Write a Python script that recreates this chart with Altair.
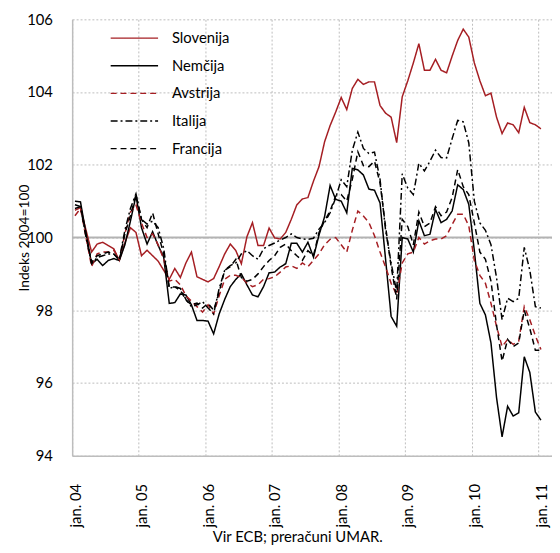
import altair as alt
import pandas as pd

# ---- data (monthly index, jan.04 = 0 ... jan.11 = 84) ----
series_names = ["Slovenija", "Nemčija", "Avstrija", "Italija", "Francija"]

slovenija = [
    100.75, 100.82, 100.2, 99.6, 99.82, 99.87, 99.78, 99.69, 99.37, 99.85, 100.27, 100.14,
    99.5, 99.65, 99.5, 99.35, 99.1, 98.85, 99.15, 98.9, 99.3, 99.6, 98.92, 98.85,
    98.78, 98.87, 99.2, 99.55, 99.82, 99.64, 99.28, 100.02, 100.41, 99.78, 99.78, 100.26,
    99.99, 99.96, 100.14, 100.5, 100.9, 101.06, 101.1, 101.55, 101.95, 102.63, 103.08, 103.45,
    103.85, 103.52, 104.1, 104.35, 104.21, 104.28, 104.28, 103.63, 103.42, 103.31, 102.61, 103.87,
    104.31, 104.8, 105.33, 104.6, 104.6, 104.9, 104.6, 104.53, 104.99, 105.42, 105.73, 105.51,
    104.8, 104.31, 103.9, 103.97, 103.31, 102.86, 103.15, 103.1, 102.88, 103.58, 103.16, 103.1,
    102.99,
]
nemcija = [
    101.0, 100.98, 100.1, 99.28, 99.4, 99.23, 99.37, 99.42, 99.37, 99.8, 100.45, 101.15,
    100.27, 99.82, 100.16, 99.78, 99.46, 98.19, 98.21, 98.45, 98.42, 98.15, 97.72, 97.72,
    97.7, 97.35, 97.9, 98.3, 98.65, 98.85, 99.0, 98.7, 98.42, 98.37, 98.65, 99.03,
    99.05, 99.19, 99.28, 99.84, 99.84, 99.6, 99.87, 99.46, 100.07, 100.57, 101.43, 101.05,
    101.0, 100.68, 101.9, 101.86, 101.72, 101.33, 101.3, 100.95, 99.4, 97.83, 97.56, 100.0,
    99.96, 99.6, 100.46, 100.05, 100.09, 100.77, 100.41, 100.5, 100.73, 101.45, 101.32, 100.91,
    99.64, 98.19, 97.87, 97.1, 95.6, 94.52, 95.36, 95.09, 95.18, 96.72, 96.29, 95.2,
    94.98,
]
avstrija = [
    100.6, 100.8, 100.0, 99.2, 99.55, 99.6, 99.6, 99.65, 99.4, 100.1, 100.7, 100.9,
    100.4, 100.0, 100.1, 99.8, 99.4, 98.8, 98.85, 98.7, 98.4, 98.25, 98.1, 97.95,
    98.15, 97.9, 98.4, 98.85, 98.96, 98.96, 98.9, 98.75, 98.65, 98.7, 98.85, 98.87,
    98.92, 99.05, 99.19, 99.22, 99.15, 99.3, 99.2, 99.37, 99.55, 99.8, 99.95, 100.0,
    99.8, 99.6, 100.2, 100.73, 100.59, 100.41, 100.05, 99.6, 99.19, 98.74, 98.42, 99.3,
    99.55, 99.6, 100.0, 99.82, 99.91, 99.96, 99.96, 100.05, 100.36, 100.64, 100.64, 100.32,
    99.37, 98.96, 98.74, 98.19, 97.56, 97.0, 97.2, 97.06, 97.15, 98.1, 97.74, 97.3,
    96.92,
]
italija = [
    100.8, 100.85, 100.0, 99.28, 99.45, 99.5, 99.55, 99.55, 99.4, 100.2, 100.8, 101.2,
    100.5, 100.37, 100.45, 100.27, 99.7, 98.6, 98.65, 98.6, 98.3, 98.1, 98.15, 98.24,
    98.06, 97.9, 98.6, 99.1, 99.23, 99.3, 99.55, 99.64, 99.5, 99.4, 99.69, 99.78,
    99.85, 99.93, 100.0, 100.1, 100.0, 99.96, 99.95, 99.98, 100.23, 100.41, 100.68, 101.09,
    101.59, 101.4, 102.4, 102.9, 102.45, 102.31, 102.35, 101.6, 100.2, 99.3, 98.5, 101.75,
    101.36, 101.18, 102.04, 101.83, 102.1, 102.4, 102.2, 102.19, 102.72, 103.22, 103.18, 102.6,
    101.0, 100.4, 100.2, 99.8, 98.9, 97.74, 98.33, 98.24, 98.33, 99.73, 99.1, 98.1,
    98.06,
]
francija = [
    100.9, 100.85, 100.1, 99.32, 99.5, 99.55, 99.6, 99.55, 99.37, 100.1, 100.6, 101.18,
    100.5, 100.27, 100.68, 100.1, 99.55, 98.64, 98.64, 98.55, 98.28, 98.15, 98.2, 98.06,
    98.19, 98.0, 98.5, 99.1, 99.2, 99.4, 98.9, 98.8, 98.85, 99.0, 99.2, 99.37,
    99.5, 99.73, 99.82, 99.64, 99.5, 99.37, 99.64, 99.5, 100.14, 100.46, 100.73, 101.14,
    101.18, 101.0, 101.6, 102.36, 101.98, 101.95, 102.1, 101.5, 100.3, 99.2, 98.3, 100.5,
    100.3, 99.8, 100.7, 100.3, 100.4, 100.85, 100.6, 100.7, 101.1, 101.87, 101.4, 101.18,
    100.4, 99.6, 99.4, 98.8, 97.6, 96.6, 97.2, 97.0, 97.1, 98.0, 97.5, 96.9,
    96.9,
]

tick_labels = ["jan. 04", "jan. 05", "jan. 06", "jan. 07", "jan. 08", "jan. 09", "jan. 10", "jan. 11"]
y_ticks = [94, 96, 98, 100, 102, 104, 106]
baseline_value = [100]

# ---- styles ----
RED = "#A51E23"
series_colors = [RED, "#000000", RED, "#000000", "#000000"]
series_dashes = [[1, 0], [1, 0], [6, 4], [7, 3, 2, 3], [6, 4]]
FONT = "Lato"

rows = []
for name, vals in zip(series_names, [slovenija, nemcija, avstrija, italija, francija]):
    for i, v in enumerate(vals):
        rows.append({"m": i, "v": v, "series": name})
df = pd.DataFrame(rows)

tick_values = [12 * k - 0.5 for k in range(len(tick_labels))]
label_expr = "[" + ",".join("'%s'" % t for t in tick_labels) + "][round((datum.value + 0.5) / 12)]"

legend = alt.Legend(
    title=None, orient="none", legendX=50, legendY=6, padding=0,
    symbolType="M-2,0H2", symbolSize=576, symbolStrokeWidth=1.4,
    labelFont=FONT, labelFontSize=15, labelColor="#000000", labelOffset=25,
    rowPadding=7,
)

x_enc = alt.X(
    "m:Q",
    scale=alt.Scale(domain=[-0.5, 86.0], nice=False, zero=False),
    axis=alt.Axis(
        values=tick_values, labelExpr=label_expr, labelAngle=270,
        labelFont=FONT, labelFontSize=15, labelColor="#000000", labelPadding=28, labelOffset=3,
        labelOverlap=False, labelBound=False, labelFlush=False,
        ticks=False, grid=True, gridColor="#bdbdbd", gridDash=[2, 2], gridWidth=1,
        domainColor="#bdbdbd", domainWidth=1.5,
        title="Vir ECB; preračuni UMAR.", titleFont=FONT, titleFontSize=15,
        titleFontWeight="normal", titleColor="#000000",
        titleX=228, titleY=87, titleAlign="center", titleBaseline="alphabetic",
    ),
)
y_enc = alt.Y(
    "v:Q",
    scale=alt.Scale(domain=[94, 106], nice=False, zero=False),
    axis=alt.Axis(
        values=y_ticks, format="d",
        labelFont=FONT, labelFontSize=15, labelColor="#000000", labelPadding=20,
        ticks=False, grid=True, gridColor="#bdbdbd", gridDash=[2, 2], gridWidth=1,
        domainColor="#bdbdbd", domainWidth=1.5,
        title="Indeks 2004=100", titleFont=FONT, titleFontSize=14,
        titleFontWeight="normal", titleColor="#000000",
        titleAngle=270, titleX=-48, titleY=221, titleAlign="center", titleBaseline="middle",
    ),
)

base_rule = alt.Chart(pd.DataFrame({"v": baseline_value})).mark_rule(
    color="#b3b3b3", strokeWidth=2
).encode(y=alt.Y("v:Q"))

lines = alt.Chart(df).mark_line(strokeWidth=1.5).encode(
    x=x_enc,
    y=y_enc,
    color=alt.Color("series:N", scale=alt.Scale(domain=series_names, range=series_colors), legend=legend),
    strokeDash=alt.StrokeDash("series:N", scale=alt.Scale(domain=series_names, range=series_dashes), legend=legend),
)

chart = alt.layer(base_rule, lines).properties(
    width=486, height=442,
    autosize=alt.AutoSizeParams(type="none"),
    padding={"left": 65, "top": 8, "right": 0, "bottom": 91},
).configure_view(stroke=None)

chart.save("out.html", embed_options={"renderer": "svg", "actions": False})
